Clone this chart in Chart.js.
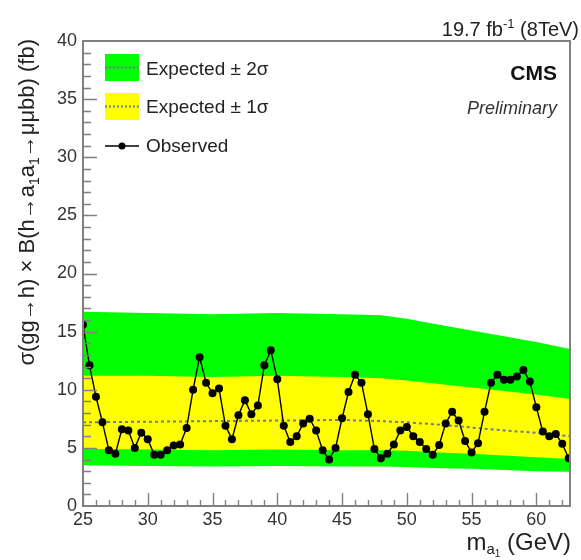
<!DOCTYPE html>
<html>
<head>
<meta charset="utf-8">
<script src="https://cdn.jsdelivr.net/npm/chart.js@4.4.1/dist/chart.umd.min.js"></script>
<style>
  html, body { margin: 0; padding: 0; background: #fff; }
  canvas { display: block; }
</style>
</head>
<body>
<canvas id="limit" width="581" height="560"></canvas>
<script>
// Pseudoscalar mass hypotheses (GeV)
const massPoints = [
  25.0, 25.5, 26.0, 26.5, 27.0, 27.5, 28.0, 28.5, 29.0, 29.5,
  30.0, 30.5, 31.0, 31.5, 32.0, 32.5, 33.0, 33.5, 34.0, 34.5,
  35.0, 35.5, 36.0, 36.5, 37.0, 37.5, 38.0, 38.5, 39.0, 39.5,
  40.0, 40.5, 41.0, 41.5, 42.0, 42.5, 43.0, 43.5, 44.0, 44.5,
  45.0, 45.5, 46.0, 46.5, 47.0, 47.5, 48.0, 48.5, 49.0, 49.5,
  50.0, 50.5, 51.0, 51.5, 52.0, 52.5, 53.0, 53.5, 54.0, 54.5,
  55.0, 55.5, 56.0, 56.5, 57.0, 57.5, 58.0, 58.5, 59.0, 59.5,
  60.0, 60.5, 61.0, 61.5, 62.0, 62.5
];

// Observed 95% CL upper limit (fb)
const observedLimit = [
  15.6, 12.1, 9.4, 7.2, 4.8, 4.5, 6.6, 6.5, 5.0, 6.3,
  5.75, 4.4, 4.4, 4.8, 5.2, 5.3, 6.7, 10.0, 12.8, 10.6,
  9.7, 10.1, 6.9, 5.75, 7.8, 9.1, 7.9, 8.65, 12.1, 13.4,
  10.9, 6.9, 5.5, 6.0, 7.1, 7.5, 6.5, 4.8, 4.0, 5.0,
  7.55, 9.8, 11.3, 10.6, 7.9, 4.9, 4.1, 4.5, 5.3, 6.5,
  6.8, 6.0, 5.5, 4.9, 4.4, 5.25, 7.1, 8.1, 7.35, 5.6,
  4.6, 5.4, 8.1, 10.6, 11.3, 10.85, 10.85, 11.15, 11.7, 10.7,
  8.5, 6.4, 6.0, 6.2, 5.35, 4.1
];

// Expected limit and its uncertainty bands (fb)
const bandMass       = [25, 30, 35, 40, 45, 48, 50, 52.5, 55, 57.5, 60, 62.6];
const expectedPlus2  = [16.7, 16.6, 16.5, 16.6, 16.5, 16.4, 16.1, 15.6, 15.1, 14.6, 14.1, 13.5];
const expectedPlus1  = [11.2, 11.2, 11.1, 11.2, 11.1, 11.0, 10.8, 10.5, 10.2, 9.9, 9.6, 9.2];
const expectedMedian = [7.2, 7.25, 7.3, 7.35, 7.4, 7.3, 7.2, 7.0, 6.75, 6.5, 6.3, 6.0];
const expectedMinus1 = [4.9, 4.85, 4.8, 4.85, 4.8, 4.8, 4.75, 4.6, 4.5, 4.35, 4.2, 4.05];
const expectedMinus2 = [3.5, 3.45, 3.4, 3.45, 3.4, 3.4, 3.35, 3.25, 3.2, 3.1, 3.0, 2.95];

// Axis labels
const xTickLabels = [25, 30, 35, 40, 45, 50, 55, 60];
const yTickLabels = [0, 5, 10, 15, 20, 25, 30, 35, 40];

const FONT = '"Liberation Sans", Arial, Helvetica, sans-serif';
const GREEN = '#00ff00';
const YELLOW = '#ffff00';
const MEDIAN = '#6c7c94';
const FRAME = '#808080';

function toPoints(xs, ys) { return xs.map((x, i) => ({ x: x, y: ys[i] })); }

// Measure / draw a run of text pieces (with sub- and superscripts) on one baseline
function richWidth(ctx, pieces) {
  let w = 0;
  for (const p of pieces) { ctx.font = p.font; w += ctx.measureText(p.t).width; }
  return w;
}
function drawRich(ctx, pieces, x, y) {
  for (const p of pieces) {
    ctx.font = p.font;
    ctx.fillText(p.t, x, y + (p.dy || 0));
    x += ctx.measureText(p.t).width;
  }
}

const decorations = {
  id: 'decorations',
  afterDraw(chart) {
    const { ctx, chartArea: a, scales: { x, y } } = chart;
    ctx.save();

    // inner tick marks
    ctx.strokeStyle = FRAME;
    ctx.lineWidth = 1.4;
    ctx.beginPath();
    for (let v = 25; v <= 62; v++) {
      const px = Math.round(x.getPixelForValue(v)) + 0.5;
      const len = v % 5 === 0 ? 13 : 6;
      ctx.moveTo(px, a.bottom);
      ctx.lineTo(px, a.bottom - len);
    }
    for (let v = 1; v < 40; v++) {
      const py = Math.round(y.getPixelForValue(v)) + 0.5;
      const len = v % 5 === 0 ? 14 : 8;
      ctx.moveTo(a.left, py);
      ctx.lineTo(a.left + len, py);
    }
    ctx.stroke();

    // frame
    ctx.lineWidth = 2;
    ctx.strokeRect(a.left, a.top, a.right - a.left, a.bottom - a.top);

    // legend
    ctx.fillStyle = GREEN;
    ctx.fillRect(105, 54, 34, 27);
    ctx.fillStyle = YELLOW;
    ctx.fillRect(105, 93, 34, 27);
    ctx.strokeStyle = MEDIAN;
    ctx.lineWidth = 2;
    ctx.setLineDash([2, 2]);
    ctx.beginPath();
    ctx.moveTo(105, 67.5); ctx.lineTo(139, 67.5);
    ctx.moveTo(105, 106.5); ctx.lineTo(139, 106.5);
    ctx.stroke();
    ctx.setLineDash([]);
    ctx.strokeStyle = '#000';
    ctx.lineWidth = 1.5;
    ctx.beginPath();
    ctx.moveTo(105, 146); ctx.lineTo(139, 146);
    ctx.stroke();
    ctx.fillStyle = '#000';
    ctx.beginPath();
    ctx.arc(122, 146, 3.5, 0, Math.PI * 2);
    ctx.fill();

    ctx.fillStyle = '#222';
    ctx.textBaseline = 'middle';
    ctx.textAlign = 'left';
    ctx.font = '19px ' + FONT;
    ctx.fillText('Expected \u00b1 2\u03c3', 146, 70);
    ctx.fillText('Expected \u00b1 1\u03c3', 146, 108);
    ctx.fillText('Observed', 146, 147);

    // CMS label
    ctx.textAlign = 'right';
    ctx.textBaseline = 'alphabetic';
    ctx.fillStyle = '#111';
    ctx.font = 'bold 21px ' + FONT;
    ctx.fillText('CMS', 557, 80);
    ctx.font = 'italic 18px ' + FONT;
    ctx.fillStyle = '#333';
    ctx.fillText('Preliminary', 557, 114);

    // luminosity header
    ctx.textAlign = 'left';
    ctx.fillStyle = '#222';
    const big = '20px ' + FONT, small = '13px ' + FONT;
    const lumi = [
      { t: '19.7 fb', font: big },
      { t: '-1', font: small, dy: -8 },
      { t: ' (8TeV)', font: big }
    ];
    drawRich(ctx, lumi, 579 - richWidth(ctx, lumi), 36);

    // x axis title
    const xt = [
      { t: 'm', font: '24px ' + FONT },
      { t: 'a', font: '15px ' + FONT, dy: 4 },
      { t: '1', font: '10px ' + FONT, dy: 7 },
      { t: ' (GeV)', font: '24px ' + FONT }
    ];
    drawRich(ctx, xt, 571 - richWidth(ctx, xt), 550);

    // y axis title, rotated, ending at the top of the frame
    const yf = '22px ' + FONT, ys = '14px ' + FONT;
    const yt = [
      { t: '\u03c3(gg\u2192h) \u00d7 B(h\u2192a', font: yf },
      { t: '1', font: ys, dy: 5 },
      { t: 'a', font: yf },
      { t: '1', font: ys, dy: 5 },
      { t: '\u2192\u03bc\u03bcbb) (fb)', font: yf }
    ];
    ctx.translate(34, 39);
    ctx.rotate(-Math.PI / 2);
    drawRich(ctx, yt, -richWidth(ctx, yt), 0);

    ctx.restore();
  }
};

new Chart(document.getElementById('limit'), {
  type: 'line',
  data: {
    datasets: [
      {
        label: 'Expected \u00b1 2\u03c3 (upper)',
        data: toPoints(bandMass, expectedPlus2),
        borderWidth: 0, pointRadius: 0, backgroundColor: GREEN,
        fill: '+1', order: 4
      },
      {
        label: 'Expected \u00b1 2\u03c3 (lower)',
        data: toPoints(bandMass, expectedMinus2),
        borderWidth: 0, pointRadius: 0, fill: false, order: 4
      },
      {
        label: 'Expected \u00b1 1\u03c3 (upper)',
        data: toPoints(bandMass, expectedPlus1),
        borderWidth: 0, pointRadius: 0, backgroundColor: YELLOW,
        fill: '+1', order: 3
      },
      {
        label: 'Expected \u00b1 1\u03c3 (lower)',
        data: toPoints(bandMass, expectedMinus1),
        borderWidth: 0, pointRadius: 0, fill: false, order: 3
      },
      {
        label: 'Expected',
        data: toPoints(bandMass, expectedMedian),
        borderColor: MEDIAN, borderWidth: 2, borderDash: [3, 3],
        pointRadius: 0, fill: false, order: 2
      },
      {
        label: 'Observed',
        data: toPoints(massPoints, observedLimit),
        borderColor: '#000', borderWidth: 1.4,
        pointRadius: 4, pointBackgroundColor: '#000', pointBorderWidth: 0,
        fill: false, order: 1
      }
    ]
  },
  options: {
    responsive: false,
    animation: false,
    devicePixelRatio: 1,
    layout: { padding: { top: 41, right: 11, left: 0, bottom: 0 } },
    plugins: { legend: { display: false }, tooltip: { enabled: false } },
    elements: { line: { tension: 0 } },
    scales: {
      x: {
        type: 'linear', min: 25, max: 62.6,
        afterBuildTicks: s => { s.ticks = xTickLabels.map(v => ({ value: v })); },
        afterFit: s => { s.height = 54; },
        grid: { display: false, drawTicks: false },
        border: { display: false },
        ticks: { font: { family: FONT, size: 18 }, color: '#333', padding: 3, maxRotation: 0, autoSkip: false }
      },
      y: {
        type: 'linear', min: 0, max: 40,
        afterBuildTicks: s => { s.ticks = yTickLabels.map(v => ({ value: v })); },
        afterFit: s => { s.width = 83; },
        grid: { display: false, drawTicks: false },
        border: { display: false },
        ticks: { font: { family: FONT, size: 18 }, color: '#333', padding: 6, autoSkip: false }
      }
    }
  },
  plugins: [decorations]
});
</script>
</body>
</html>
